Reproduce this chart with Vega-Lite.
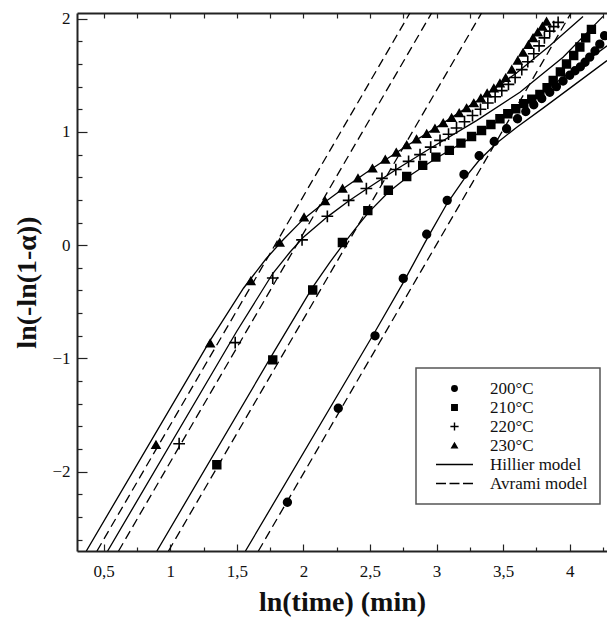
{
  "$schema": "https://vega.github.io/schema/vega-lite/v6.json",
  "width": 530,
  "height": 538,
  "autosize": "none",
  "padding": {"left": 77, "top": 13, "right": 0, "bottom": 68},
  "background": "white",
  "datasets": {
    "pts": [
      {"series": "200°C", "x": 1.88, "y": -2.27},
      {"series": "200°C", "x": 2.262, "y": -1.44},
      {"series": "200°C", "x": 2.538, "y": -0.80},
      {"series": "200°C", "x": 2.75, "y": -0.293},
      {"series": "200°C", "x": 2.926, "y": 0.097},
      {"series": "200°C", "x": 3.08, "y": 0.396},
      {"series": "200°C", "x": 3.206, "y": 0.625},
      {"series": "200°C", "x": 3.32, "y": 0.79},
      {"series": "200°C", "x": 3.433, "y": 0.916},
      {"series": "200°C", "x": 3.526, "y": 1.028},
      {"series": "200°C", "x": 3.608, "y": 1.116},
      {"series": "200°C", "x": 3.67, "y": 1.18},
      {"series": "200°C", "x": 3.73, "y": 1.24},
      {"series": "200°C", "x": 3.79, "y": 1.295},
      {"series": "200°C", "x": 3.85, "y": 1.35},
      {"series": "200°C", "x": 3.90, "y": 1.40},
      {"series": "200°C", "x": 3.95, "y": 1.45},
      {"series": "200°C", "x": 4.0, "y": 1.50},
      {"series": "200°C", "x": 4.04, "y": 1.54},
      {"series": "200°C", "x": 4.08, "y": 1.575},
      {"series": "200°C", "x": 4.115, "y": 1.615},
      {"series": "200°C", "x": 4.15, "y": 1.66},
      {"series": "200°C", "x": 4.19, "y": 1.715},
      {"series": "200°C", "x": 4.226, "y": 1.775},
      {"series": "200°C", "x": 4.262, "y": 1.85},
      {"series": "210°C", "x": 1.35, "y": -1.938},
      {"series": "210°C", "x": 1.77, "y": -1.013},
      {"series": "210°C", "x": 2.07, "y": -0.396},
      {"series": "210°C", "x": 2.293, "y": 0.024},
      {"series": "210°C", "x": 2.484, "y": 0.305},
      {"series": "210°C", "x": 2.638, "y": 0.485},
      {"series": "210°C", "x": 2.776, "y": 0.607},
      {"series": "210°C", "x": 2.896, "y": 0.705},
      {"series": "210°C", "x": 2.995, "y": 0.778},
      {"series": "210°C", "x": 3.096, "y": 0.837},
      {"series": "210°C", "x": 3.183, "y": 0.901},
      {"series": "210°C", "x": 3.263, "y": 0.96},
      {"series": "210°C", "x": 3.338, "y": 1.013},
      {"series": "210°C", "x": 3.408, "y": 1.066},
      {"series": "210°C", "x": 3.476, "y": 1.116},
      {"series": "210°C", "x": 3.535, "y": 1.16},
      {"series": "210°C", "x": 3.595, "y": 1.205},
      {"series": "210°C", "x": 3.655, "y": 1.25},
      {"series": "210°C", "x": 3.715, "y": 1.29},
      {"series": "210°C", "x": 3.776, "y": 1.33},
      {"series": "210°C", "x": 3.83, "y": 1.39},
      {"series": "210°C", "x": 3.876, "y": 1.455},
      {"series": "210°C", "x": 3.93, "y": 1.53},
      {"series": "210°C", "x": 3.976, "y": 1.60},
      {"series": "210°C", "x": 4.03, "y": 1.675},
      {"series": "210°C", "x": 4.076, "y": 1.75},
      {"series": "210°C", "x": 4.12, "y": 1.83},
      {"series": "210°C", "x": 4.163, "y": 1.905},
      {"series": "220°C", "x": 1.067, "y": -1.753},
      {"series": "220°C", "x": 1.488, "y": -0.86},
      {"series": "220°C", "x": 1.77, "y": -0.29},
      {"series": "220°C", "x": 1.99, "y": 0.047},
      {"series": "220°C", "x": 2.18, "y": 0.255},
      {"series": "220°C", "x": 2.34, "y": 0.396},
      {"series": "220°C", "x": 2.473, "y": 0.50},
      {"series": "220°C", "x": 2.59, "y": 0.59},
      {"series": "220°C", "x": 2.694, "y": 0.668},
      {"series": "220°C", "x": 2.79, "y": 0.74},
      {"series": "220°C", "x": 2.876, "y": 0.80},
      {"series": "220°C", "x": 2.956, "y": 0.866},
      {"series": "220°C", "x": 3.026, "y": 0.925},
      {"series": "220°C", "x": 3.09, "y": 0.98},
      {"series": "220°C", "x": 3.15, "y": 1.035},
      {"series": "220°C", "x": 3.21, "y": 1.09},
      {"series": "220°C", "x": 3.27, "y": 1.145},
      {"series": "220°C", "x": 3.33, "y": 1.2},
      {"series": "220°C", "x": 3.385, "y": 1.255},
      {"series": "220°C", "x": 3.44, "y": 1.31},
      {"series": "220°C", "x": 3.49, "y": 1.365},
      {"series": "220°C", "x": 3.54, "y": 1.42},
      {"series": "220°C", "x": 3.59, "y": 1.48},
      {"series": "220°C", "x": 3.64, "y": 1.55},
      {"series": "220°C", "x": 3.685, "y": 1.62},
      {"series": "220°C", "x": 3.73, "y": 1.69},
      {"series": "220°C", "x": 3.77, "y": 1.76},
      {"series": "220°C", "x": 3.81, "y": 1.83},
      {"series": "220°C", "x": 3.85, "y": 1.89},
      {"series": "220°C", "x": 3.88, "y": 1.93},
      {"series": "220°C", "x": 3.913, "y": 1.967},
      {"series": "230°C", "x": 0.893, "y": -1.762},
      {"series": "230°C", "x": 1.30, "y": -0.866},
      {"series": "230°C", "x": 1.605, "y": -0.317},
      {"series": "230°C", "x": 1.822, "y": 0.024},
      {"series": "230°C", "x": 2.005, "y": 0.246},
      {"series": "230°C", "x": 2.163, "y": 0.389},
      {"series": "230°C", "x": 2.294, "y": 0.50},
      {"series": "230°C", "x": 2.41, "y": 0.59},
      {"series": "230°C", "x": 2.519, "y": 0.678},
      {"series": "230°C", "x": 2.615, "y": 0.757},
      {"series": "230°C", "x": 2.698, "y": 0.819},
      {"series": "230°C", "x": 2.776, "y": 0.885},
      {"series": "230°C", "x": 2.85, "y": 0.936},
      {"series": "230°C", "x": 2.926, "y": 0.984},
      {"series": "230°C", "x": 2.988, "y": 1.03},
      {"series": "230°C", "x": 3.05, "y": 1.078},
      {"series": "230°C", "x": 3.113, "y": 1.125},
      {"series": "230°C", "x": 3.17, "y": 1.166},
      {"series": "230°C", "x": 3.226, "y": 1.21},
      {"series": "230°C", "x": 3.28, "y": 1.254},
      {"series": "230°C", "x": 3.333, "y": 1.298},
      {"series": "230°C", "x": 3.38, "y": 1.342},
      {"series": "230°C", "x": 3.43, "y": 1.386},
      {"series": "230°C", "x": 3.476, "y": 1.43},
      {"series": "230°C", "x": 3.52, "y": 1.477},
      {"series": "230°C", "x": 3.565, "y": 1.55},
      {"series": "230°C", "x": 3.61, "y": 1.63},
      {"series": "230°C", "x": 3.65, "y": 1.70},
      {"series": "230°C", "x": 3.69, "y": 1.77},
      {"series": "230°C", "x": 3.725, "y": 1.83},
      {"series": "230°C", "x": 3.76, "y": 1.88},
      {"series": "230°C", "x": 3.795, "y": 1.93},
      {"series": "230°C", "x": 3.826, "y": 1.975}
    ],
    "hil": [
      {"series": "230°C", "x": 0.37, "y": -2.70},
      {"series": "230°C", "x": 1.30, "y": -0.84},
      {"series": "230°C", "x": 1.55, "y": -0.38},
      {"series": "230°C", "x": 1.72, "y": -0.12},
      {"series": "230°C", "x": 1.85, "y": 0.05},
      {"series": "230°C", "x": 2.0, "y": 0.23},
      {"series": "230°C", "x": 2.16, "y": 0.38},
      {"series": "230°C", "x": 2.3, "y": 0.50},
      {"series": "230°C", "x": 2.52, "y": 0.68},
      {"series": "230°C", "x": 2.78, "y": 0.88},
      {"series": "230°C", "x": 3.0, "y": 1.04},
      {"series": "230°C", "x": 3.3, "y": 1.27},
      {"series": "230°C", "x": 3.6, "y": 1.52},
      {"series": "230°C", "x": 3.85, "y": 1.76},
      {"series": "230°C", "x": 4.10, "y": 2.02},
      {"series": "220°C", "x": 0.53, "y": -2.70},
      {"series": "220°C", "x": 1.5, "y": -0.76},
      {"series": "220°C", "x": 1.77, "y": -0.25},
      {"series": "220°C", "x": 1.9, "y": -0.06},
      {"series": "220°C", "x": 2.0, "y": 0.07},
      {"series": "220°C", "x": 2.18, "y": 0.25},
      {"series": "220°C", "x": 2.34, "y": 0.39},
      {"series": "220°C", "x": 2.48, "y": 0.50},
      {"series": "220°C", "x": 2.7, "y": 0.67},
      {"series": "220°C", "x": 2.96, "y": 0.86},
      {"series": "220°C", "x": 3.3, "y": 1.10},
      {"series": "220°C", "x": 3.626, "y": 1.35},
      {"series": "220°C", "x": 3.95, "y": 1.66},
      {"series": "220°C", "x": 4.25, "y": 2.02},
      {"series": "210°C", "x": 0.90, "y": -2.70},
      {"series": "210°C", "x": 1.77, "y": -0.96},
      {"series": "210°C", "x": 2.07, "y": -0.37},
      {"series": "210°C", "x": 2.2, "y": -0.15},
      {"series": "210°C", "x": 2.3, "y": 0.01},
      {"series": "210°C", "x": 2.4, "y": 0.16},
      {"series": "210°C", "x": 2.49, "y": 0.29},
      {"series": "210°C", "x": 2.64, "y": 0.47},
      {"series": "210°C", "x": 2.78, "y": 0.60},
      {"series": "210°C", "x": 3.0, "y": 0.77},
      {"series": "210°C", "x": 3.26, "y": 0.95},
      {"series": "210°C", "x": 3.48, "y": 1.11},
      {"series": "210°C", "x": 3.78, "y": 1.34},
      {"series": "210°C", "x": 4.0, "y": 1.52},
      {"series": "210°C", "x": 4.28, "y": 1.76},
      {"series": "200°C", "x": 1.565, "y": -2.70},
      {"series": "200°C", "x": 2.54, "y": -0.76},
      {"series": "200°C", "x": 2.75, "y": -0.33},
      {"series": "200°C", "x": 2.93, "y": 0.06},
      {"series": "200°C", "x": 3.08, "y": 0.37},
      {"series": "200°C", "x": 3.21, "y": 0.59},
      {"series": "200°C", "x": 3.32, "y": 0.75},
      {"series": "200°C", "x": 3.45, "y": 0.90},
      {"series": "200°C", "x": 3.6, "y": 1.04},
      {"series": "200°C", "x": 3.8, "y": 1.21},
      {"series": "200°C", "x": 4.04, "y": 1.42},
      {"series": "200°C", "x": 4.28, "y": 1.63}
    ],
    "avr": [
      {"series": "230°C", "x": 0.45, "y": -2.70},
      {"series": "230°C", "x": 2.80, "y": 2.05},
      {"series": "220°C", "x": 0.612, "y": -2.70},
      {"series": "220°C", "x": 2.963, "y": 2.05},
      {"series": "210°C", "x": 0.987, "y": -2.70},
      {"series": "210°C", "x": 3.338, "y": 2.05},
      {"series": "200°C", "x": 1.662, "y": -2.70},
      {"series": "200°C", "x": 4.01, "y": 2.05}
    ]
  },
  "layer": [
    {
      "data": {"name": "hil"},
      "mark": {"type": "line", "color": "black", "strokeWidth": 1.3, "clip": true},
      "encoding": {
        "x": {
          "field": "x", "type": "quantitative",
          "scale": {"domain": [0.3, 4.28], "nice": false, "zero": false},
          "axis": {
            "orient": "bottom",
            "values": [0.5, 1, 1.5, 2, 2.5, 3, 3.5, 4],
            "tickSize": -7, "tickWidth": 1.2, "tickColor": "#222",
            "domainColor": "#222", "domainWidth": 2,
            "labelPadding": 19, "labelFontSize": 17, "labelFont": "Liberation Serif", "labelColor": "#111",
            "labelExpr": "replace(format(datum.value, '~g'), '.', ',')",
            "labelFlush": false, "labelOverlap": false, "grid": false,
            "title": "ln(time) (min)", "titleFont": "Liberation Serif", "titleFontSize": 28,
            "titleFontWeight": "bold", "titleColor": "#111", "titlePadding": 9
          }
        },
        "y": {
          "field": "y", "type": "quantitative",
          "scale": {"domain": [-2.7, 2.05], "nice": false, "zero": false},
          "axis": {
            "orient": "left",
            "values": [-2, -1, 0, 1, 2],
            "format": "d",
            "tickSize": -10, "tickWidth": 1.2, "tickColor": "#222",
            "domainColor": "#222", "domainWidth": 2,
            "labelPadding": 17, "labelFontSize": 17, "labelFont": "Liberation Serif", "labelColor": "#111",
            "labelFlush": false, "labelOverlap": false, "grid": false,
            "title": "ln(-ln(1-α))", "titleFont": "Liberation Serif", "titleFontSize": 28,
            "titleFontWeight": "bold", "titleColor": "#111", "titlePadding": 10
          }
        },
        "detail": {"field": "series", "type": "nominal"}
      }
    },
    {
      "data": {"name": "avr"},
      "mark": {"type": "line", "color": "black", "strokeWidth": 1.3, "strokeDash": [9, 5], "clip": true},
      "encoding": {
        "x": {
          "field": "x", "type": "quantitative",
          "scale": {"domain": [0.3, 4.28], "nice": false, "zero": false},
          "axis": {
            "orient": "bottom",
            "values": [0.75, 1.25, 1.75, 2.25, 2.75, 3.25, 3.75, 4.25],
            "tickSize": -4, "tickWidth": 1.2, "tickColor": "#222",
            "domain": false, "labels": false, "grid": false, "title": null
          }
        },
        "y": {
          "field": "y", "type": "quantitative",
          "scale": {"domain": [-2.7, 2.05], "nice": false, "zero": false},
          "axis": {
            "orient": "left",
            "values": [-2.6, -2.4, -2.2, -1.8, -1.6, -1.4, -1.2, -0.8, -0.6, -0.4, -0.2, 0.2, 0.4, 0.6, 0.8, 1.2, 1.4, 1.6, 1.8],
            "tickSize": -5, "tickWidth": 1.2, "tickColor": "#222",
            "domain": false, "labels": false, "grid": false, "title": null
          }
        },
        "detail": {"field": "series", "type": "nominal"}
      }
    },
    {
      "data": {"name": "pts"},
      "mark": {"type": "point", "filled": false, "fill": "black", "strokeWidth": 1.6, "opacity": 1, "fillOpacity": 1, "strokeOpacity": 1, "clip": true},
      "encoding": {
        "x": {
          "field": "x", "type": "quantitative",
          "scale": {"domain": [0.3, 4.28], "nice": false, "zero": false},
          "axis": {
            "orient": "top",
            "values": [0.5, 0.75, 1, 1.25, 1.5, 1.75, 2, 2.25, 2.5, 2.75, 3, 3.25, 3.5, 3.75, 4, 4.25],
            "tickSize": -5, "tickWidth": 1.2, "tickColor": "#222",
            "domainColor": "#222", "domainWidth": 2,
            "labels": false, "grid": false, "title": null
          }
        },
        "y": {
          "field": "y", "type": "quantitative",
          "scale": {"domain": [-2.7, 2.05], "nice": false, "zero": false},
          "axis": null
        },
        "shape": {
          "field": "series", "type": "nominal",
          "scale": {
            "domain": ["200°C", "210°C", "220°C", "230°C", "Hillier model", "Avrami model"],
            "range": ["circle", "square", "M-1.5,0H1.5M0,-1.5V1.5", "triangle-up", "M-6.75,0H6.75", "M-6.75,0H-3.1M-1.82,0H1.82M3.1,0H6.75"]
          },
          "legend": {
            "orient": "none", "legendX": 339, "legendY": 355,
            "title": null, "padding": 12,
            "strokeColor": "#555", "fillColor": "white",
            "symbolSize": 30, "symbolOffset": 18,
            "symbolFillColor": "black", "symbolStrokeColor": "black", "symbolStrokeWidth": 1.4,
            "labelOffset": 27, "labelFont": "Liberation Serif", "labelFontSize": 17, "labelColor": "#111",
            "rowPadding": 1, "labelLimit": 200
          }
        },
        "stroke": {
          "field": "series", "type": "nominal",
          "scale": {
            "domain": ["200°C", "210°C", "220°C", "230°C", "Hillier model", "Avrami model"],
            "range": ["black", "black", "black", "black", "black", "black"]
          },
          "legend": {
            "orient": "none", "legendX": 339, "legendY": 355,
            "title": null, "padding": 12,
            "strokeColor": "#555", "fillColor": "white",
            "symbolSize": 30, "symbolOffset": 18,
            "symbolFillColor": "black", "symbolStrokeColor": "black", "symbolStrokeWidth": 1.4,
            "labelOffset": 27, "labelFont": "Liberation Serif", "labelFontSize": 17, "labelColor": "#111",
            "rowPadding": 1, "labelLimit": 200
          }
        },
        "size": {
          "field": "series", "type": "ordinal",
          "scale": {"domain": ["200°C", "210°C", "220°C", "230°C"], "range": [60, 62, 90, 90]},
          "legend": null
        }
      }
    }
  ],
  "resolve": {"axis": {"x": "independent", "y": "independent"}},
  "config": {
    "view": {"stroke": null},
    "font": "Liberation Serif",
    "legend": {"strokeWidth": 1.5}
  }
}
